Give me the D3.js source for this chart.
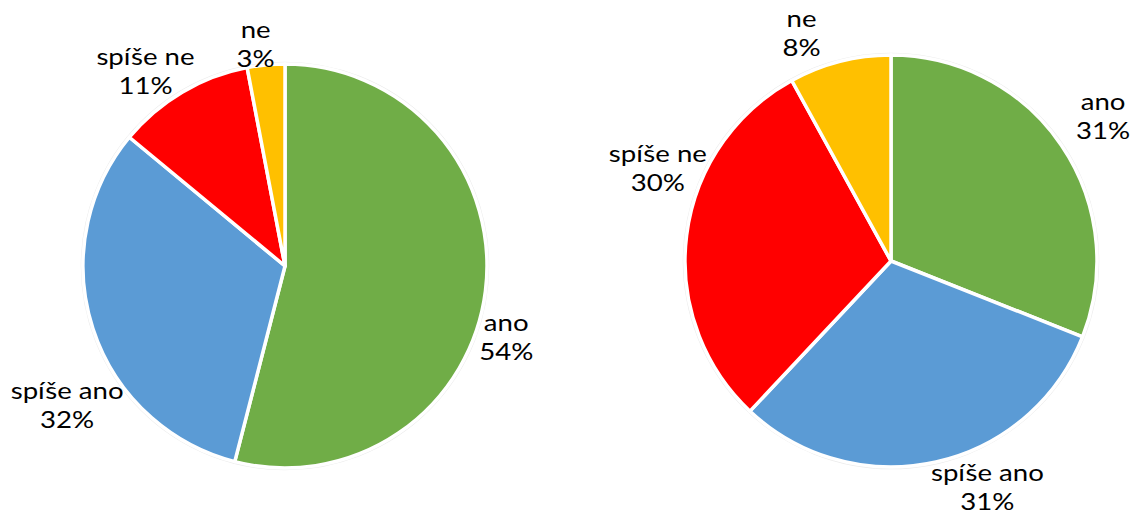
<!DOCTYPE html>
<html>
<head>
<meta charset="utf-8">
<script src="https://cdn.jsdelivr.net/npm/d3@7"></script>
<style>
  body { margin: 0; background: #fff; }
  svg { display: block; }
  .lbl { font-family: Lato, sans-serif; font-size: 23px; fill: #000; }
</style>
</head>
<body>
<div id="chart"></div>
<script>
// data
const categories = ["ano", "spíše ano", "spíše ne", "ne"];
const leftValues = [54, 32, 11, 3];
const rightValues = [31, 31, 30, 8];
const colors = ["#70AD47", "#5B9BD5", "#FF0000", "#FFC000"];

const width = 1132;
const height = 515;

const svg = d3.select("#chart")
  .append("svg")
  .attr("width", width)
  .attr("height", height);

// label nudges from the outer centroid, per slice
const leftNudge = [[-4, 43], [-2, 69], [-24, 0], [-8, 4]];
const rightNudge = [[21, -15], [46, 1], [-4, -64], [-32, -4]];

function drawPie(values, cx, cy, radius, nudge) {
  const g = svg.append("g")
    .attr("transform", `translate(${cx}, ${cy})`);

  const pie = d3.pie().sort(null).value(d => d);
  const arcs = pie(values);

  const arc = d3.arc().innerRadius(0).outerRadius(radius);
  const labelArc = d3.arc().innerRadius(radius + 25).outerRadius(radius + 25);

  // faint outline like the original
  g.append("circle")
    .attr("r", radius + 1.5)
    .attr("fill", "none")
    .attr("stroke", "#ececec")
    .attr("stroke-width", 1.5);

  g.selectAll(".slice")
    .data(arcs)
    .join("path")
    .attr("class", "slice")
    .attr("d", arc)
    .style("fill", (d, i) => colors[i])
    .style("stroke", "#fff")
    .style("stroke-width", 3.5)
    .style("stroke-linejoin", "round");

  const labels = g.selectAll(".lbl")
    .data(arcs)
    .join("text")
    .attr("class", "lbl")
    .attr("text-anchor", "middle")
    .attr("transform", (d, i) => {
      const c = labelArc.centroid(d);
      return `translate(${c[0] + nudge[i][0]}, ${c[1] + nudge[i][1]}) scale(1.2, 1)`;
    });

  labels.append("tspan")
    .attr("x", 0)
    .attr("y", -6)
    .text((d, i) => categories[i]);
  labels.append("tspan")
    .attr("x", 0)
    .attr("y", 23)
    .text(d => d.data + "%");
}

drawPie(leftValues, 285, 266, 202, leftNudge);
drawPie(rightValues, 891, 261, 206, rightNudge);
</script>
</body>
</html>
